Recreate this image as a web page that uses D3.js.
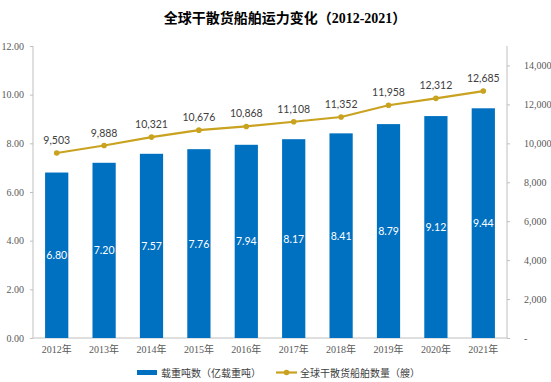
<!DOCTYPE html>
<meta charset="utf-8">
<style>
    body { margin: 0; background: #fff; }
    .tick text { font-family: "Liberation Serif", serif; font-size: 10px; fill: #595959; }
    .axis path, .axis line { stroke: #bfbfbf; }
</style>
<svg width="551" height="382"></svg>
<script src="https://d3js.org/d3.v7.min.js"></script>
<script>

    var years = ["2012年", "2013年", "2014年", "2015年", "2016年", "2017年", "2018年", "2019年", "2020年", "2021年"];
    var tonnage = [6.80, 7.20, 7.57, 7.76, 7.94, 8.17, 8.41, 8.79, 9.12, 9.44];
    var ships = [9503, 9888, 10321, 10676, 10868, 11108, 11352, 11958, 12312, 12685];

    var svg = d3.select("svg");
    var plotLeft = 33, plotRight = 507, plotTop = 46, plotBottom = 338;

    var x = d3.scaleBand().domain(years).range([plotLeft, plotRight]).paddingInner(0.51).paddingOuter(0.255);
    var y = d3.scaleLinear().domain([0, 12]).range([plotBottom, plotTop]);
    var y2 = d3.scaleLinear().domain([0, 15000]).range([plotBottom, plotTop]);

    svg.append("text")
        .attr("x", 285).attr("y", 23)
        .attr("text-anchor", "middle")
        .style("font-family", "'Noto Sans CJK SC'")
        .style("font-weight", "bold")
        .style("font-size", "14px")
        .html('全球干散货船舶运力变化<tspan>（</tspan><tspan style="font-family:\'Liberation Serif\'">2012-2021</tspan><tspan>）</tspan>');

    // left axis
    svg.append("g").attr("class", "axis")
        .attr("transform", "translate(" + plotLeft + ",0)")
        .call(d3.axisLeft(y).tickValues([0, 2, 4, 6, 8, 10, 12]).tickFormat(d3.format(".2f")).tickSize(3).tickPadding(6))
        .call(function (g) { g.select(".domain").attr("d", "M0," + plotTop + "V" + plotBottom); });

    // right axis
    svg.append("g").attr("class", "axis")
        .attr("transform", "translate(" + plotRight + ",0)")
        .call(d3.axisRight(y2).tickValues([0, 2000, 4000, 6000, 8000, 10000, 12000, 14000])
            .tickFormat(function (d) { return d === 0 ? "-" : d3.format(",")(d); }).tickSize(3).tickPadding(14))
        .call(function (g) { g.select(".domain").attr("d", "M0," + plotTop + "V" + plotBottom); });

    // baseline
    svg.append("line")
        .attr("x1", plotLeft).attr("x2", plotRight).attr("y1", plotBottom).attr("y2", plotBottom)
        .attr("stroke", "#bfbfbf");

    // x labels
    svg.append("g").selectAll("text")
        .data(years).enter().append("text")
        .attr("x", function (d) { return x(d) + x.bandwidth() / 2; })
        .attr("y", 353)
        .attr("text-anchor", "middle")
        .style("font-family", "'Liberation Serif', 'Noto Sans CJK SC'")
        .style("font-size", "10px")
        .style("fill", "#595959")
        .text(function (d) { return d; });

    // bars
    svg.append("g").selectAll("rect")
        .data(tonnage).enter().append("rect")
        .attr("x", function (d, i) { return x(years[i]); })
        .attr("y", function (d) { return y(d); })
        .attr("width", x.bandwidth())
        .attr("height", function (d) { return plotBottom - y(d); })
        .attr("fill", "#0070C0");

    svg.append("g").selectAll("text")
        .data(tonnage).enter().append("text")
        .attr("x", function (d, i) { return x(years[i]) + x.bandwidth() / 2; })
        .attr("y", function (d) { return (y(d) + plotBottom) / 2 + 4; })
        .attr("text-anchor", "middle")
        .style("font-family", "Lato, sans-serif")
        .style("font-size", "10.5px")
        .style("fill", "#fff")
        .text(function (d) { return d.toFixed(2); });

    // line
    var line = d3.line()
        .x(function (d, i) { return x(years[i]) + x.bandwidth() / 2; })
        .y(function (d) { return y2(d); });

    svg.append("path")
        .datum(ships)
        .attr("d", line)
        .attr("fill", "none")
        .attr("stroke", "#C9A21F")
        .attr("stroke-width", 2.2);

    svg.append("g").selectAll("circle")
        .data(ships).enter().append("circle")
        .attr("cx", function (d, i) { return x(years[i]) + x.bandwidth() / 2; })
        .attr("cy", function (d) { return y2(d); })
        .attr("r", 2.8)
        .attr("fill", "#C9A21F");

    svg.append("g").selectAll("text")
        .data(ships).enter().append("text")
        .attr("x", function (d, i) { return x(years[i]) + x.bandwidth() / 2; })
        .attr("y", function (d) { return y2(d) - 9; })
        .attr("text-anchor", "middle")
        .style("font-family", "Lato, sans-serif")
        .style("font-size", "10.5px")
        .style("fill", "#404040")
        .text(function (d) { return d3.format(",")(d); });

    // legend
    var legend = svg.append("g").style("font-family", "'Noto Sans CJK SC'").style("font-size", "10px").style("fill", "#404040");
    legend.append("rect").attr("x", 137).attr("y", 370).attr("width", 20).attr("height", 5).attr("fill", "#0070C0");
    legend.append("text").attr("x", 161).attr("y", 377).text("载重吨数（亿载重吨）");
    legend.append("line").attr("x1", 276).attr("x2", 297).attr("y1", 372.5).attr("y2", 372.5)
        .attr("stroke", "#C9A21F").attr("stroke-width", 2.2);
    legend.append("circle").attr("cx", 286.5).attr("cy", 372.5).attr("r", 2.8).attr("fill", "#C9A21F");
    legend.append("text").attr("x", 300).attr("y", 377).text("全球干散货船舶数量（艘）");

</script>
